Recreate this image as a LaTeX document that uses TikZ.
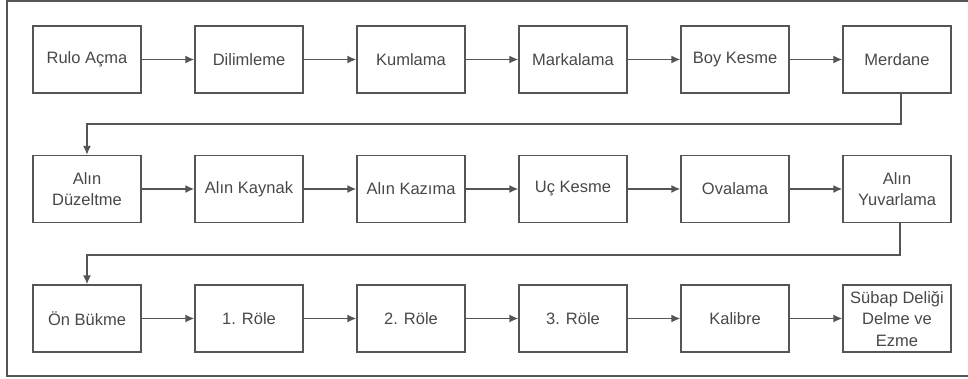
\documentclass[tikz,border=0pt]{standalone}
\usepackage{fontspec}
\setmainfont{Liberation Sans}
\usepackage{tikz}
\usetikzlibrary{arrows.meta}
\usepackage{xcolor}
\definecolor{linegray}{HTML}{555555}
\definecolor{textgray}{HTML}{484848}

\tikzset{
	stepbox/.style={draw=linegray,line width=1.4pt,minimum width=108pt,
		minimum height=67pt,align=center,text=textgray,inner sep=1pt,
		font=\fontsize{16.5}{21.5}\selectfont},
	flow/.style={draw=linegray,line width=1.4pt,-{Latex[length=9pt,width=8pt]}}
}

\begin{document}
\begin{tikzpicture}[x=1pt,y=-1pt]
	\useasboundingbox (0,0) rectangle (968,379);
	\draw[linegray,line width=1.4pt] (7,1) rectangle (975,376);
	
	% first row
	\node[stepbox] at (87,59.5) (rulo) {Rulo Açma};
	\node[stepbox] at (249,59.5) (dilim) {Dilimleme};
	\node[stepbox] at (411,59.5) (kum) {Kumlama};
	\node[stepbox] at (573,59.5) (marka) {Markalama};
	\node[stepbox] at (735,59.5) (boy) {Boy Kesme};
	\node[stepbox] at (897,59.5) (merdane) {Merdane};
	
	% second row
	\node[stepbox] at (87,189) (duzelt) {Alın\\Düzeltme};
	\node[stepbox] at (249,189) (kaynak) {Alın Kaynak};
	\node[stepbox] at (411,189) (kazima) {Alın Kazıma};
	\node[stepbox] at (573,189) (uc) {Uç Kesme};
	\node[stepbox] at (735,189) (oval) {Ovalama};
	\node[stepbox] at (897,189) (yuvar) {Alın\\Yuvarlama};
	
	% third row
	\node[stepbox] at (87,318.5) (onbuk) {Ön Bükme};
	\node[stepbox] at (249,318.5) (role1) {1. Röle};
	\node[stepbox] at (411,318.5) (role2) {2. Röle};
	\node[stepbox] at (573,318.5) (role3) {3. Röle};
	\node[stepbox] at (735,318.5) (kalibre) {Kalibre};
	\node[stepbox] at (897,318.5) (subap) {Sübap Deliği\\Delme ve\\Ezme};
	
	\draw[flow] (rulo) -- (dilim);
	\draw[flow] (dilim) -- (kum);
	\draw[flow] (kum) -- (marka);
	\draw[flow] (marka) -- (boy);
	\draw[flow] (boy) -- (merdane);
	\draw[flow] ([xshift=4pt]merdane.south) |- (87,124) -- (duzelt.north);
	
	\draw[flow] (duzelt) -- (kaynak);
	\draw[flow] (kaynak) -- (kazima);
	\draw[flow] (kazima) -- (uc);
	\draw[flow] (uc) -- (oval);
	\draw[flow] (oval) -- (yuvar);
	\draw[flow] ([xshift=3pt]yuvar.south) |- (87,255) -- (onbuk.north);
	
	\draw[flow] (onbuk) -- (role1);
	\draw[flow] (role1) -- (role2);
	\draw[flow] (role2) -- (role3);
	\draw[flow] (role3) -- (kalibre);
	\draw[flow] (kalibre) -- (subap);
\end{tikzpicture}
\end{document}
